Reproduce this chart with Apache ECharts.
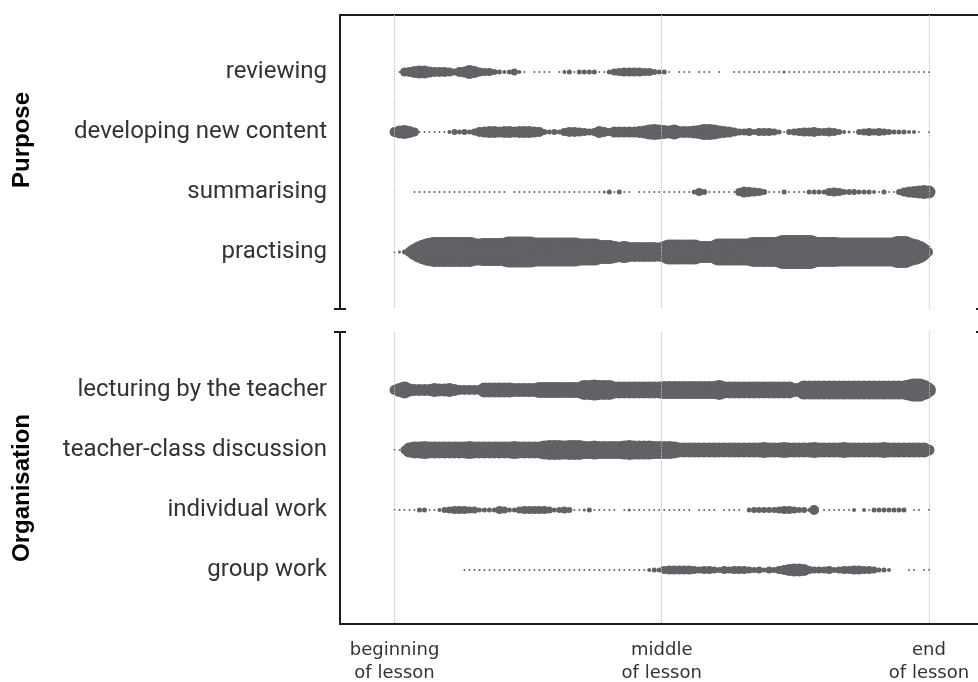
<!DOCTYPE html>
<html><head><meta charset="utf-8">
<script src="https://cdn.jsdelivr.net/npm/echarts@6/dist/echarts.min.js"></script>
<style>html,body{margin:0;padding:0;background:#fff}#c{width:978px;height:682px}</style>
</head><body><div id="c"></div>
<script>
const purposeCategories = ['reviewing','developing new content','summarising','practising'];
const organisationCategories = ['lecturing by the teacher','teacher-class discussion','individual work','group work'];
const panelTitles = ['Purpose','Organisation'];
const timeTickValues = [0, 0.5, 1];
const timeTickLabels = ['beginning\nof lesson','middle\nof lesson','end\nof lesson'];

// symbol diameters (px) sampled at equal steps from beginning to end of lesson; 0 = no mark
const reviewing = [0,2,9,10,12,13,13,11,10,10,
 10,9,7,10,11,14,12,9,8,8,
 6,5,4,5,7,4,2,0,2,2,
 2,2,0,2,4,5,2,5,5,5,
 5,2,2,5,7,8,9,9,9,9,
 8,8,6,5,5,2,0,2,2,2,
 0,2,2,2,0,2,0,0,2,2,
 2,2,2,2,2,2,2,2,3,2,
 2,2,2,2,2,2,2,2,2,2,
 2,2,2,2,2,2,2,2,2,2,
 2,2,2,2,2,2,2,2];
const developing = [10,13,14,12,9,2,2,2,2,2,
 2,4,6,5,6,5,7,10,11,12,
 12,11,12,12,11,12,12,12,11,10,
 6,5,6,5,8,10,10,9,8,7,
 8,12,10,8,11,11,11,11,11,12,
 13,15,16,15,14,13,15,12,12,12,
 13,14,16,16,15,13,12,11,9,7,
 7,8,6,8,8,8,7,5,2,6,
 7,8,9,9,10,8,8,9,8,6,
 4,3,2,6,7,8,7,8,7,6,
 5,5,5,4,4,2,0,2];
const summarising = [0,0,0,0,2,2,2,2,2,2,
 2,2,2,2,2,2,2,2,2,2,
 2,2,2,0,2,2,2,2,2,2,
 2,2,2,2,2,2,2,2,2,2,
 2,2,3,5,2,5,2,2,0,2,
 2,2,2,2,2,2,2,2,2,2,
 5,8,6,2,2,2,2,2,2,8,
 11,10,9,8,6,2,2,2,5,2,
 2,2,2,5,5,5,5,8,9,8,
 6,6,6,5,5,5,4,2,5,2,
 2,6,9,11,12,13,14,13];
const practising = [2,3,5,10,16,21,25,28,30,30,
 30,30,30,30,30,30,27,27,28,28,
 28,28,28,31,31,31,31,31,29,29,
 29,29,29,29,29,29,29,27,27,27,
 27,24,24,24,22,20,22,20,20,20,
 20,20,20,19,21,25,25,25,25,25,
 25,22,22,22,22,27,27,27,27,27,
 27,27,30,30,30,30,30,30,34,34,
 34,34,34,34,30,30,30,30,30,29,
 29,29,29,29,29,29,29,29,29,29,
 29,32,32,28,26,22,16,8];
const lecturing = [10,14,17,13,12,12,12,12,14,13,
 13,14,12,10,10,10,10,10,15,15,
 15,15,15,15,14,14,14,14,14,16,
 16,16,16,16,16,16,16,16,20,20,
 21,20,20,20,17,17,17,17,17,17,
 17,17,17,17,18,18,18,18,18,18,
 18,18,18,18,18,20,17,17,17,17,
 17,17,17,17,17,17,17,17,17,17,
 14,14,19,19,19,19,19,19,19,19,
 19,19,19,19,19,19,19,19,19,19,
 19,19,19,21,23,23,20,14];
const discussion = [2,2,8,15,17,17,18,17,17,17,
 17,17,17,17,17,18,17,17,17,17,
 17,17,17,17,18,17,17,17,17,17,
 19,20,20,20,19,20,20,20,18,18,
 19,18,18,18,18,18,19,20,19,19,
 19,19,18,18,18,18,17,15,15,15,
 15,15,15,15,15,15,15,15,15,15,
 15,15,15,15,16,15,15,15,16,15,
 15,15,15,15,16,15,15,15,15,15,
 16,15,15,15,15,15,15,15,16,15,
 15,15,15,15,15,15,15,11];
const individualWork = [2,2,2,2,2,5,5,2,2,4,
 6,7,8,8,8,7,7,5,5,5,
 5,8,7,5,5,7,8,8,8,8,
 8,7,5,6,7,6,2,2,3,5,
 2,2,2,2,2,0,2,3,2,2,
 2,2,2,2,2,2,2,2,2,2,
 0,2,2,2,2,0,2,2,2,2,
 0,5,6,6,6,6,6,7,8,8,
 7,6,6,4,10,0,2,2,2,2,
 2,2,4,0,4,2,5,5,5,5,
 5,5,5,0,2,2,0,2];
const groupWork = [0,0,0,0,0,0,0,0,0,0,
 0,0,0,0,2,2,2,2,2,2,
 2,2,2,2,2,2,2,2,2,2,
 2,2,2,2,2,2,2,2,2,2,
 2,2,2,2,2,2,2,2,2,2,
 2,4,5,5,8,9,9,9,9,9,
 8,7,8,8,7,6,8,7,8,8,
 8,7,6,7,5,7,6,8,10,12,
 13,13,12,8,7,7,7,8,6,7,
 8,8,9,9,8,8,7,5,5,4,
 0,0,0,2,2,0,2,2];

const panels = [
  {cats: purposeCategories, rows: [reviewing, developing, summarising, practising]},
  {cats: organisationCategories, rows: [lecturing, discussion, individualWork, groupWork]}
];

function toPoints(sizes, row) {
  const pts = [];
  const n = sizes.length - 1;
  sizes.forEach((s, i) => { if (s > 0) pts.push([i / n, row, s]); });
  return pts;
}

const FRAME = '#1c1c1c';
const DOT = '#616266';

const grids = [
  {left: 340, top: 15, width: 642, height: 294, containLabel: false, outerBoundsMode: 'none'},
  {left: 340, top: 332, width: 642, height: 292, containLabel: false, outerBoundsMode: 'none'}
];
const xMin = -0.102, xMax = 1.0992;
const xAxes = [
  {gridIndex: 0, type: 'value', min: xMin, max: xMax, position: 'top',
   axisLine: {show: true, onZero: false, lineStyle: {color: FRAME, width: 2}},
   axisTick: {show: false}, axisLabel: {show: false}, splitLine: {show: false}},
  {gridIndex: 1, type: 'value', min: xMin, max: xMax, position: 'bottom',
   axisLine: {show: true, onZero: false, lineStyle: {color: FRAME, width: 2}},
   axisTick: {show: false}, splitLine: {show: false},
   axisLabel: {show: true, customValues: timeTickValues, hideOverlap: false,
     formatter: v => timeTickLabels[timeTickValues.indexOf(v)],
     fontFamily: 'DejaVu Sans', fontSize: 18, lineHeight: 23, color: '#333', margin: 15}}
];
const yRanges = [[0.05, 4.95], [0.033, 4.9]];
const breakSymbols = [['rect', 'none'], ['none', 'rect']];
const yAxes = [];
panels.forEach((p, k) => {
  yAxes.push({gridIndex: k, type: 'value', inverse: true, min: yRanges[k][0], max: yRanges[k][1], position: 'left',
    axisLine: {show: true, onZero: false, lineStyle: {color: FRAME, width: 2},
      symbol: breakSymbols[k], symbolSize: [12, 2]},
    axisTick: {show: false}, splitLine: {show: false},
    axisLabel: {show: true, customValues: [1, 2, 3, 4], hideOverlap: false,
      formatter: v => p.cats[Math.round(v) - 1],
      fontFamily: 'Roboto', fontSize: 24, color: '#333', margin: 13}});
  yAxes.push({gridIndex: k, type: 'value', inverse: true, min: yRanges[k][0], max: yRanges[k][1], position: 'right',
    axisLine: {show: true, onZero: false, lineStyle: {color: FRAME, width: 2},
      symbol: breakSymbols[k], symbolSize: [12, 2]},
    axisTick: {show: false}, splitLine: {show: false}, axisLabel: {show: false}});
});

const series = [];
panels.forEach((p, k) => {
  series.push({type: 'scatter', xAxisIndex: k, yAxisIndex: k * 2, data: [], z: 1, silent: true,
    markLine: {silent: true, symbol: ['none', 'none'], label: {show: false},
      lineStyle: {type: 'dotted', color: '#bdbdbd', width: 1},
      emphasis: {disabled: true},
      data: timeTickValues.map(v => ({xAxis: v}))}});
  p.rows.forEach((sizes, r) => {
    series.push({type: 'scatter', name: p.cats[r], xAxisIndex: k, yAxisIndex: k * 2,
      data: toPoints(sizes, r + 1), symbol: 'circle', symbolSize: v => v[2],
      itemStyle: {color: DOT, opacity: 1}, z: 3, silent: true});
  });
});

const chart = echarts.init(document.getElementById('c'), null, {renderer: 'canvas'});
chart.setOption({
  animation: false,
  backgroundColor: '#fff',
  grid: grids, xAxis: xAxes, yAxis: yAxes, series: series,
  graphic: [
    {type: 'text', x: 22, y: 140, rotation: Math.PI / 2,
     style: {text: panelTitles[0], font: 'bold 24px "Liberation Sans"', fill: '#000', align: 'center', verticalAlign: 'middle'}},
    {type: 'text', x: 22, y: 488, rotation: Math.PI / 2,
     style: {text: panelTitles[1], font: 'bold 24px "Liberation Sans"', fill: '#000', align: 'center', verticalAlign: 'middle'}}
  ]
});
</script></body></html>
